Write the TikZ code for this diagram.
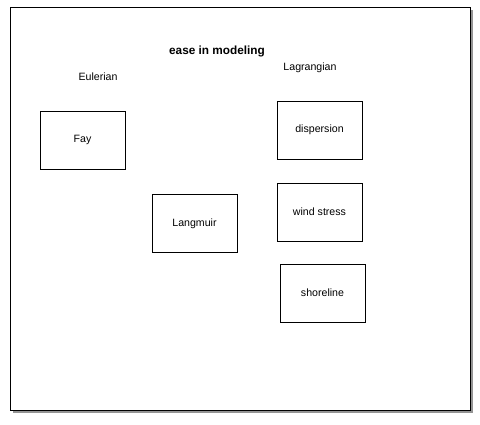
\documentclass[tikz,border=0pt]{standalone}
\usepackage{fontspec}
\setmainfont{Liberation Sans}
\usetikzlibrary{shadows}

\begin{document}
\begin{tikzpicture}[x=1pt,y=-1pt,font=\fontsize{10.6}{12}\selectfont,
sheet/.style={draw,thick,fill=white,minimum width=460pt,minimum height=403pt,
  drop shadow={shadow xshift=2.5pt,shadow yshift=-2.5pt,opacity=.6,fill=black!70}},
box/.style={draw,fill=white,minimum width=85pt,minimum height=58pt,inner sep=0pt},
lbl/.style={inner sep=1pt}]
\useasboundingbox (0,0) rectangle (480,424);
\node[sheet] (page) at (240,208.5) {};
\node[lbl,font=\fontsize{11.8}{13}\selectfont\bfseries] (title) at (217,51) {ease in modeling};
\node[lbl] (euler) at (98,77) {Eulerian};
\node[lbl] (lagr) at (310,68) {Lagrangian};
\node[box] (fay) at (82.5,140) {Fay};
\node[box] (langmuir) at (194.5,223.5) {Langmuir};
\node[box] (disp) at (319.5,130) {dispersion};
\node[box] (wind) at (319.5,212) {wind stress};
\node[box] (shore) at (322.5,293) {shoreline};
\end{tikzpicture}
\end{document}
